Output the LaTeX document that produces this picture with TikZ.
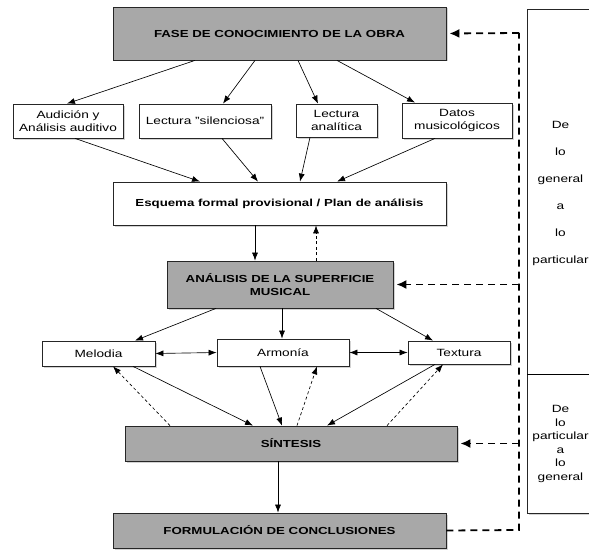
\documentclass[tikz,border=0pt]{standalone}
\usepackage{fontspec}
\setmainfont{Liberation Sans}[FakeStretch=1.3]
\usetikzlibrary{arrows.meta,shadows}

\tikzset{%
  dim/.style 2 args={minimum width=#1pt, minimum height=#2pt},%
  caja/.style={draw=black!85, line width=0.8pt, fill=white, inner sep=0pt,
    align=center, font=\fontsize{10.5}{13.3}\selectfont,
    drop shadow={shadow xshift=1.5pt, shadow yshift=-1.5pt, opacity=0.35}},%
  gris/.style={caja, fill=black!34, font=\fontsize{10.2}{13.3}\selectfont\bfseries},%
  flecha/.style={line width=0.65pt, -{Latex[length=8pt,width=6pt]}},%
  vuelta/.style={flecha, dash pattern=on 3pt off 2.5pt},%
  guion/.style={line width=1.8pt, dash pattern=on 7pt off 5pt},%
  guionflecha/.style={guion, -{Latex[length=10pt,width=9pt]}, shorten >=3pt}%
}

\begin{document}
\begin{tikzpicture}[x=1pt, y=-1pt]
  \useasboundingbox (0,0) rectangle (589,551);%

  % panel lateral
  \node[caja, dim={100}{504}, anchor=north west] (P) at (527,9) {};%
  \coordinate (Pa) at (527,374); \coordinate (Pb) at (627,374);%
  \draw[line width=0.8pt] (Pa) -- (Pb);%
  \node[align=center, font=\fontsize{10.5}{27}\selectfont] (T1) at (560.5,193)
    {De\\lo\\general\\a\\lo\\particular};%
  \node[align=center, font=\fontsize{10.5}{13.6}\selectfont] (T2) at (560.5,444)
    {De\\lo\\particular\\a\\lo\\general};%

  % fases
  \node[gris, dim={333}{53}] (F) at (279.5,33.5) {FASE DE CONOCIMIENTO DE LA OBRA};%
  \node[caja, dim={110}{34}] (A1) at (68,121) {Audición y\\Análisis auditivo};%
  \node[caja, dim={132}{34}] (A2) at (205,121) {Lectura "silenciosa"};%
  \node[caja, dim={81}{33}] (A3) at (336.5,120.5) {Lectura\\analítica};%
  \node[caja, dim={110}{35}] (A4) at (457,120.5) {Datos\\musicológicos};%
  \node[caja, dim={333}{43}, font=\fontsize{10.2}{13.3}\selectfont\bfseries] (E)
    at (279.5,203.5) {Esquema formal provisional / Plan de análisis};%
  \node[gris, dim={226}{47}] (S) at (280,284.5) {ANÁLISIS DE LA SUPERFICIE\\MUSICAL};%
  \node[caja, dim={113}{25}] (M) at (98.5,353.5) {Melodia};%
  \node[caja, dim={132}{27}] (H) at (283,352.5) {Armonía};%
  \node[caja, dim={102}{23}] (X) at (459,352.5) {Textura};%
  \node[gris, dim={332}{35}] (Y) at (291,443.5) {SÍNTESIS};%
  \node[gris, dim={333}{35}] (C) at (279.5,530.5) {FORMULACIÓN DE CONCLUSIONES};%

  % de la obra a las lecturas y al esquema
  \foreach \a/\b/\n in {-84.5/-1/A1, -24.5/18/A2, 18.5/-18.5/A3, 57.5/-42/A4}%
    \draw[flecha] ([xshift=\a pt]F.south) -- ([xshift=\b pt]\n.north);%
  \foreach \a/\b/\n in {7/-79.5/A1, 17/-21.5/A2, -26.5/20.5/A3, -22/57.5/A4}%
    \draw[flecha] ([xshift=\a pt]\n.south) -- ([xshift=\b pt]E.north);%

  \draw[flecha] ([xshift=-24.5pt]E.south) -- ([xshift=-25pt]S.north);%
  \draw[vuelta] ([xshift=36pt]S.north) -- ([xshift=36.5pt]E.south);%

  \foreach \a/\b/\n in {-64/36.5/M, 2/-1/H, 96/-26/X}%
    \draw[flecha] ([xshift=\a pt]S.south) -- ([xshift=\b pt]\n.north);%
  \draw[flecha, <->, >={Latex[length=8pt,width=6pt]}] (M.east) -- (H.west);%
  \draw[flecha, <->, >={Latex[length=8pt,width=6pt]}] (H.east) -- (X.west);%

  % hacia la sintesis y de vuelta
  \foreach \a/\b/\n in {34.5/-38/M, -23/-9/H, -24/36/X}%
    \draw[flecha] ([xshift=\a pt]\n.south) -- ([xshift=\b pt]Y.north);%
  \foreach \a/\b/\n in {-121/14.5/M, 6/34/H, 96/-16/X}%
    \draw[vuelta] ([xshift=\a pt]Y.north) -- ([xshift=\b pt]\n.south);%

  \draw[flecha] ([xshift=-13pt]Y.south) -- ([xshift=-1.5pt]C.north);%

  % retorno
  \coordinate (R1) at (519,33); \coordinate (R4) at (519,530);%
  \draw[guion] (C.east) -- (R4) -- (R1);%
  \draw[guionflecha] (R1) -- (F.east);%
  \draw[guionflecha] (R1 |- S.east) -- (S.east);%
  \draw[guionflecha] (R1 |- Y.east) -- (Y.east);%
\end{tikzpicture}
\end{document}
